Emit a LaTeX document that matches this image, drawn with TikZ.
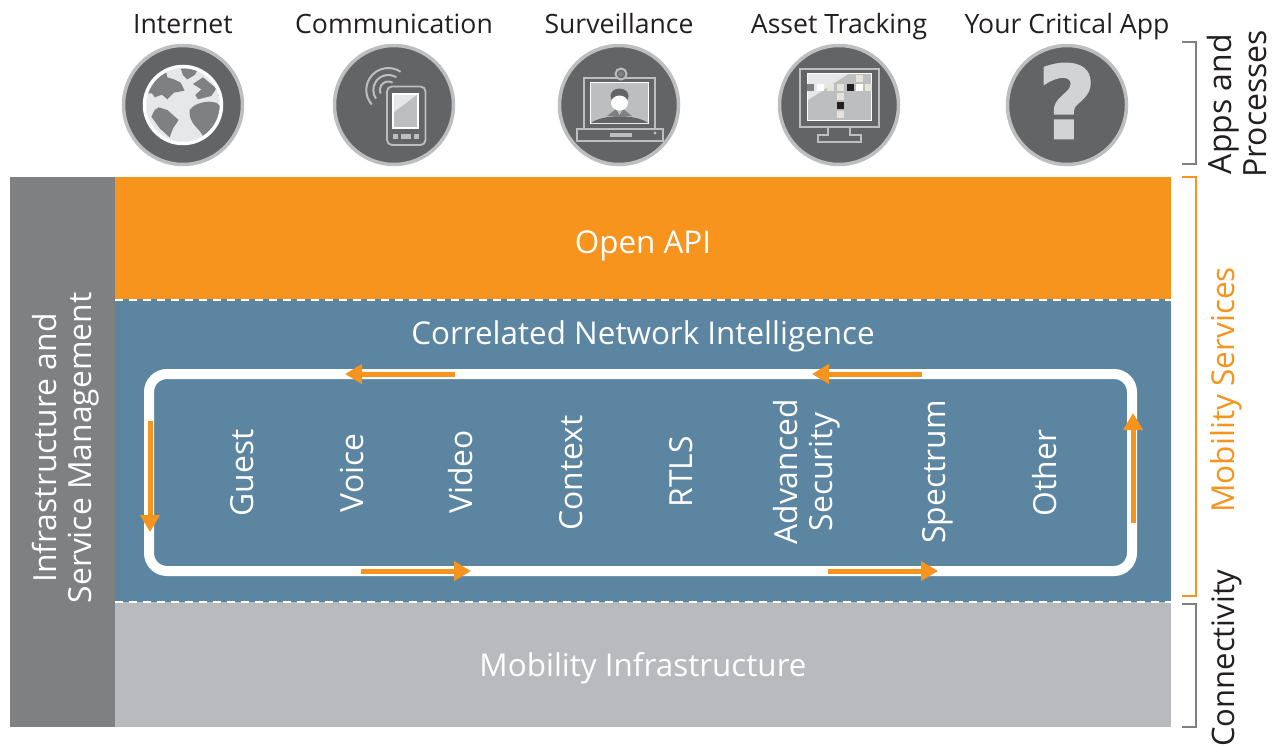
\documentclass[tikz,border=0pt]{standalone}
\usepackage{fontspec}
\setmainfont{Open Sans}
\newfontfamily\qfont[BoldFeatures={FakeBold=2.5}]{DejaVu Sans}
\usetikzlibrary{arrows.meta}
\definecolor{morange}{HTML}{F7941E}
\definecolor{mblue}{HTML}{5B85A0}
\definecolor{mgrey}{HTML}{B9BABD}
\definecolor{mside}{HTML}{7F8082}
\definecolor{mdark}{HTML}{636466}
\definecolor{mring}{HTML}{BCBEC0}
\definecolor{mlight}{HTML}{E6E7E8}
\definecolor{mbeige}{HTML}{E6E3D8}
\definecolor{mtext}{HTML}{231F20}
\definecolor{mquery}{HTML}{D1D3D4}
\tikzset{
  apptitle/.style={font=\fontsize{26.6}{26.6}\selectfont,text=mtext,inner sep=0pt,anchor=base},
  appdisc/.style={circle,draw=mring,fill=mdark,line width=3.5pt,minimum size=119pt,inner sep=0pt},
  bandlabel/.style={font=\fontsize{31.4}{31.4}\selectfont,text=white,inner sep=0pt,anchor=base},
  vlabel/.style={font=\fontsize{31.8}{35}\selectfont,text=white,inner sep=0pt,rotate=90,align=center},
  vbase/.style={font=\fontsize{31.8}{35}\selectfont,text=white,inner sep=0pt,rotate=90,anchor=base},
  sidelabel/.style={font=\fontsize{32}{35}\selectfont,inner sep=0pt,rotate=90,align=center},
  sidebase/.style={font=\fontsize{#1}{35}\selectfont,inner sep=0pt,rotate=90,anchor=base},
  flow/.style={draw=morange,line width=5pt,-{Triangle[length=17pt,width=19pt]}},
  bracket/.style={line width=2.5pt,draw=#1},
  icon/.style={draw=mring,line width=2pt},
}
\begin{document}
\begin{tikzpicture}[x=1pt,y=-1pt]
\useasboundingbox (0,0) rectangle (1273,747);
% bands
\fill[mside] (10,177) rectangle (115,727);
\fill[morange] (115,177) rectangle (1171,299);
\fill[mblue] (115,299) rectangle (1171,602);
\fill[mgrey] (115,602) rectangle (1171,727);
\draw[white,line width=2pt,dash pattern=on 8pt off 6pt] (115,300) -- (1171,300);
\draw[white,line width=2pt,dash pattern=on 8pt off 6pt] (115,602) -- (1171,602);
% band labels
\node[bandlabel] (api) at (643,253) {Open API};
\node[bandlabel] (cni) at (643,344) {Correlated Network Intelligence};
\node[bandlabel] (mi) at (643,676) {Mobility Infrastructure};
\node[vlabel] (ism) at (66,448) {Infrastructure and\\Service Management};
% loop
\draw[white,line width=10pt,rounded corners=18pt] (149,374) rectangle (1132,571);
\node[vbase] (l1) at (253,473) {Guest};
\node[vbase] (l2) at (363,473) {Voice};
\node[vbase] (l3) at (472,472) {Video};
\node[vbase] (l4) at (582,473) {Context};
\node[vbase] (l5) at (692,472) {RTLS};
\node[vlabel] (l6) at (807,472) {Advanced\\Security};
\node[vbase] (l7) at (945,472) {Spectrum};
\node[vbase] (l8) at (1056,473) {Other};
% flow arrows
\coordinate (a1s) at (150,421); \coordinate (a1e) at (150,532);
\coordinate (a2s) at (455,374); \coordinate (a2e) at (345,374);
\coordinate (a3s) at (922,374); \coordinate (a3e) at (812,374);
\coordinate (a4s) at (361,571); \coordinate (a4e) at (471,571);
\coordinate (a5s) at (828,571); \coordinate (a5e) at (938,571);
\coordinate (a6s) at (1133,523); \coordinate (a6e) at (1133,413);
\draw[flow] (a1s) -- (a1e);
\draw[flow] (a2s) -- (a2e);
\draw[flow] (a3s) -- (a3e);
\draw[flow] (a4s) -- (a4e);
\draw[flow] (a5s) -- (a5e);
\draw[flow] (a6s) -- (a6e);
% brackets
\draw[bracket=mside] (1182,42) -- (1196,42) -- (1196,164) -- (1182,164);
\draw[bracket=morange] (1182,177) -- (1196,177) -- (1196,596) -- (1182,596);
\draw[bracket=mside] (1182,604) -- (1196,604) -- (1196,727) -- (1182,727);
\node[sidelabel,text=mtext] (s1) at (1237,104) {Apps and\\Processes};
\node[sidebase=31.6,text=morange] (s2) at (1234,390) {Mobility Services};
\node[sidebase=31,text=mtext] (s3) at (1234,658) {Connectivity};
% titles
\node[apptitle] (t1) at (183,33) {Internet};
\node[apptitle] (t2) at (394,33) {Communication};
\node[apptitle] (t3) at (619,33) {Surveillance};
\node[apptitle] (t4) at (839,33) {Asset Tracking};
\node[apptitle] (t5) at (1067,33) {Your Critical App};
% discs
\node[appdisc] (d1) at (183,105) {};
\node[appdisc] (d2) at (394,105) {};
\node[appdisc] (d3) at (619,105) {};
\node[appdisc] (d4) at (839,105) {};
\node[appdisc] (d5) at (1067,105) {};
% globe
\begin{scope}
\clip (183,105) circle (37);
\fill[mlight] (183,105) circle (37);
\begin{scope}[shift={(138,60)},x=0.3333pt,y=-0.3333pt]
\fill[mside] (85,38) -- (88,52) -- (108,58) -- (128,68) -- (140,92) -- (108,98) -- (88,118) -- (72,104) -- (50,112) -- (42,100) -- (30,100) -- (50,50) -- cycle;
\fill[mside] (128,25) -- (182,25) -- (170,45) -- (148,58) -- (135,45) -- cycle;
\fill[mside] (165,72) -- (195,52) -- (235,85) -- (220,108) -- (180,118) -- (172,105) -- (190,88) -- cycle;
\fill[mside] (155,150) .. controls (165,135) and (190,125) .. (215,125) -- (235,128) -- (260,150) -- (255,190) -- (195,228) .. controls (185,205) and (150,190) .. (155,150) -- cycle;
\fill[mside] (50,150) -- (62,142) -- (88,150) -- (122,180) -- (105,205) -- (95,232) -- (65,205) -- (40,170) -- cycle;
\end{scope}
\end{scope}
\draw[white,line width=3.5pt] (183,105) circle (38.5);
% phone
\draw[icon,rounded corners=5pt,line width=1.8pt] (387,86.5) rectangle (425.5,145);
\fill[white] (392,93) rectangle (418.5,129);
\fill[mring] (394,95) rectangle (416.5,127);
\fill[mlight] (394,95) -- (416.5,95) -- (394,112) -- cycle;
\fill[mring] (393,134) rectangle (398,139);
\fill[mring] (401,134) rectangle (411,139);
\fill[mring] (414,134) rectangle (419,139);
\coordinate (wave) at (388.3,90);
\draw[icon] (wave) ++(-56:22) arc[start angle=-56,end angle=-221,radius=22];
\draw[icon] (wave) ++(-58:15) arc[start angle=-58,end angle=-215,radius=15];
\draw[icon] (wave) ++(-60:8.5) arc[start angle=-60,end angle=-205,radius=8.5];
% camera
\draw[icon] (584,129) -- (584,77.5) -- (655,77.5) -- (655,129);
\fill[white] (590,82) rectangle (649,124);
\fill[mring] (591,83) rectangle (648,123);
\fill[mdark] (591,123) .. controls (603,114) and (636,114) .. (648,123) -- cycle;
\fill[mside] (607,116) -- (616,109) -- (623,109) -- (632,116) -- cycle;
\fill[mring] (616,109) -- (619.5,115) -- (623,109) -- cycle;
\fill[mdark] (619.5,96) ellipse (9 and 7.5);
\fill[white] (619.5,103) ellipse (8.5 and 7.5);
\draw[icon] (576.5,129) rectangle (662.5,141);
\fill[mring] (610,133) rectangle (632,137);
\fill[mring] (655,133) circle (1.7);
\fill[mdark] (621,74) circle (6);
\draw[icon] (621,74) circle (5.5);
\fill[mside] (621,74) circle (3);
% monitor
\draw[icon] (800,68.5) rectangle (879,127);
\draw[icon] (828,127) -- (828,135) -- (818,135) -- (818,142) -- (861,142) -- (861,135) -- (850,135) -- (850,127);
\fill[white] (807,73) rectangle (872,121);
\fill[mring] (808,74) rectangle (871,120);
\fill[mlight] (808,74) -- (848,74) -- (808,100) -- cycle;
\foreach \cx/\cy/\cc in {810/87/mside,820/87/white,830/87/mbeige,840/87/mbeige,850/87/mtext,859/87/white,868/87/mbeige,859/78/mbeige,840/96/mbeige,840/105/mtext,840/114/mbeige}
  \fill[\cc] (\cx-3.5,\cy-3.5) rectangle (\cx+3.5,\cy+3.5);
% question
\node[font=\qfont\bfseries\fontsize{100}{100}\selectfont,text=mquery,inner sep=0pt,anchor=base] (q) at (1067,138) {?};
\end{tikzpicture}
\end{document}
